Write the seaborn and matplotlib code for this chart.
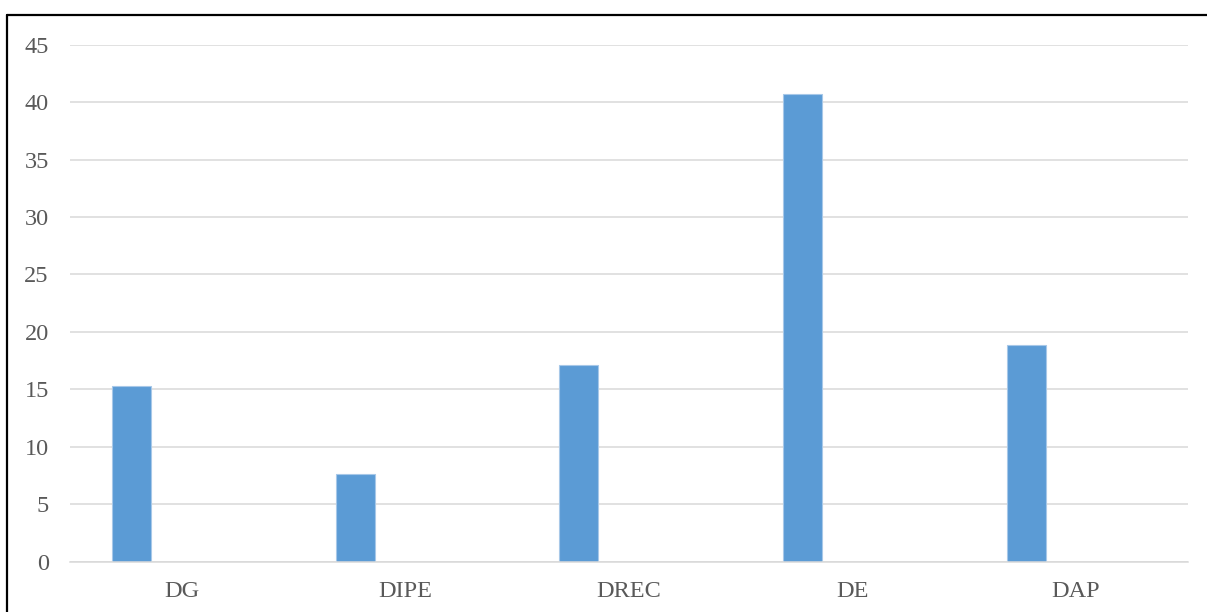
import numpy as np
import pandas as pd
import matplotlib
matplotlib.use("Agg")
import matplotlib.pyplot as plt
from matplotlib.lines import Line2D
import seaborn as sns

# Data
categories = ["DG", "DIPE", "DREC", "DE", "DAP"]
series_1 = [15.3, 7.65, 17.1, 40.75, 18.9]
series_2 = [np.nan, np.nan, np.nan, np.nan, np.nan]  # empty second series
series_names = ["Série 1", "Série 2"]
y_ticks = [0, 5, 10, 15, 20, 25, 30, 35, 40, 45]

df = pd.DataFrame({
    "cat": categories * 2,
    "val": series_1 + series_2,
    "serie": [series_names[0]] * len(categories) + [series_names[1]] * len(categories),
})

sns.set_theme(style="white")
plt.rcParams["font.family"] = ["Liberation Serif", "DejaVu Serif"]

fig = plt.figure(figsize=(12.07, 6.12), dpi=100)
ax = fig.add_axes([0.0577, 0.0822, 0.9263, 0.8448])

sns.barplot(
    data=df, x="cat", y="val", hue="serie", hue_order=series_names,
    order=categories, palette=["#5B9BD5", "#ED7D31"], saturation=1,
    width=0.889, gap=0.608, dodge=True, errorbar=None,
    edgecolor="#A7C8E8", linewidth=0.8, legend=False, ax=ax,
)

ax.set_xlim(-0.5, len(categories) - 0.5)
ax.set_ylim(0, 45)
ax.set_yticks(y_ticks)
ax.set_xlabel("")
ax.set_ylabel("")

ax.grid(axis="y", color="#D9D9D9", linewidth=1.1)
ax.set_axisbelow(True)
for side in ["top", "right", "left"]:
    ax.spines[side].set_visible(False)
ax.spines["bottom"].set_color("#D9D9D9")
ax.spines["bottom"].set_linewidth(1.1)

ax.tick_params(axis="both", length=0, labelsize=17.5, colors="#595959")
ax.tick_params(axis="y", pad=15)
ax.tick_params(axis="x", pad=14)

# outer frame (left and top edges)
fig.add_artist(Line2D([0.0058, 0.0058], [0.0, 0.9747], transform=fig.transFigure,
                      color="black", linewidth=1.6))
fig.add_artist(Line2D([0.0058, 1.0], [0.9747, 0.9747], transform=fig.transFigure,
                      color="black", linewidth=1.6))

fig.savefig("out.png", dpi=100, facecolor="white")
